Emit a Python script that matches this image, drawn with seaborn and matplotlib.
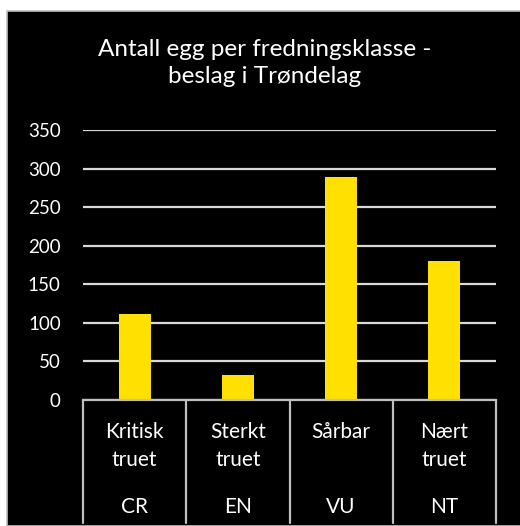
import matplotlib
matplotlib.use("Agg")
import matplotlib.pyplot as plt
import matplotlib.patches as mpatches
import matplotlib.transforms as mtrans
import seaborn as sns
import pandas as pd

categories = ["Kritisk\ntruet", "Sterkt\ntruet", "Sårbar", "Nært\ntruet"]
codes = ["CR", "EN", "VU", "NT"]
values = [111, 33, 289, 180]
yticks = [0, 50, 100, 150, 200, 250, 300, 350]
title = "Antall egg per fredningsklasse -\nbeslag i Trøndelag"

sns.set_theme(style="white")
plt.rcParams['font.family'] = ['Lato', 'DejaVu Sans']

W, H = 520, 526
fig = plt.figure(figsize=(W / 100, H / 100), dpi=100, facecolor="white")
bg = mpatches.Rectangle((7 / W, 0), 1 - 7 / W + 0.01, (H - 11) / H,
                        transform=fig.transFigure, facecolor="black",
                        edgecolor="#BFBFBF", linewidth=1.2, zorder=-10)
fig.add_artist(bg)

ax = fig.add_axes([83 / W, 126 / H, 413 / W, 270 / H])
ax.set_zorder(1)
ax.set_facecolor("black")
df = pd.DataFrame({"cat": codes, "val": values})
sns.barplot(data=df, x="cat", y="val", color="#FFE000", width=0.31,
            saturation=1, linewidth=0, ax=ax, zorder=3)
ax.set_ylim(0, 350)
ax.set_xlim(-0.5, 3.5)
ax.set_yticks(yticks)
ax.set_yticklabels([str(t) for t in yticks], color="white", fontsize=13.5)
ax.tick_params(axis="y", length=0, pad=16)
ax.set_xticks([])
ax.set_xlabel("")
ax.set_ylabel("")
ax.yaxis.grid(True, color="#D9D9D9", linewidth=1.6, zorder=1)
ax.set_axisbelow(True)
for s in ["left", "right", "top"]:
    ax.spines[s].set_visible(False)
ax.spines["bottom"].set_color("#BFBFBF")
ax.spines["bottom"].set_linewidth(1.6)
ax.spines["bottom"].set_zorder(4)

trans = mtrans.blended_transform_factory(ax.transData, ax.transAxes)
ybot = (400 - 523) / 270
for xb in [-0.5, 0.5, 1.5, 2.5, 3.5]:
    ax.plot([xb, xb], [0, ybot], transform=trans, color="#BFBFBF",
            linewidth=1.6, clip_on=False)
for i, (c, code) in enumerate(zip(categories, codes)):
    lines = c.split("\n")
    for j, ln in enumerate(lines):
        yy = (400 - (432 + 28 * j)) / 270
        ax.text(i, yy, ln, transform=trans, ha="center", va="center",
                color="white", fontsize=15)
    ax.text(i, (400 - 507) / 270, code, transform=trans, ha="center",
            va="center", color="white", fontsize=15)

fig.text(265 / W, 1 - 63 / H, title, ha="center", va="center", color="white",
         fontsize=17.5, linespacing=1.32)

fig.savefig("out.png", dpi=100, facecolor="white")
